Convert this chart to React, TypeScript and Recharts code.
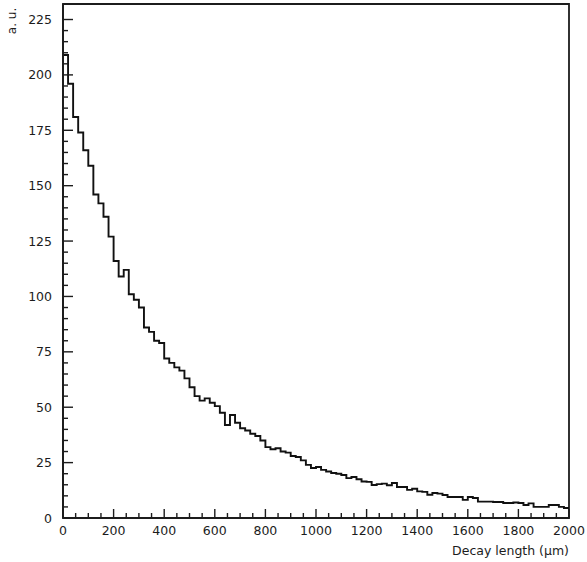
import React from 'react';
import { LineChart, Line, XAxis, YAxis, ReferenceArea } from 'recharts';

// decay length histogram, 20 um bins from 0 to 2000 um
const BIN_WIDTH = 20;
const counts = [
  209, 196, 181, 174, 166, 159, 146, 142, 136, 127,
  116, 109, 112, 101, 98.5, 95, 86, 84, 80, 79,
  72, 70, 68, 66.5, 63, 59, 55, 53, 54, 52,
  50.5, 47.5, 42, 46.5, 43, 40.5, 39.5, 38, 37, 35,
  32, 31, 31.5, 30, 29.5, 28, 27.5, 26, 24, 22.6,
  23, 21.7, 21, 20.3, 20, 19.4, 18, 18.5, 17.5, 16.5,
  16.3, 14.9, 15.3, 15.5, 14.8, 15.8, 14, 14, 12.7, 13.2,
  12, 11.8, 10.5, 11.3, 11, 10.4, 9.5, 9.5, 9.5, 8.2,
  9.5, 9, 7.4, 7.4, 7.4, 7.2, 7.2, 6.8, 6.8, 7,
  6.8, 5.9, 6.6, 5, 5, 5, 5.9, 5.9, 5, 4.5,
];

const xMajorTicks = [0, 200, 400, 600, 800, 1000, 1200, 1400, 1600, 1800, 2000];
const yMajorTicks = [0, 25, 50, 75, 100, 125, 150, 175, 200, 225];
const X_MINOR_STEP = 50;
const Y_MINOR_STEP = 5;
const X_MAX = 2000;
const Y_MAX = 232;

const xTicks = Array.from({ length: X_MAX / X_MINOR_STEP + 1 }, (_, i) => i * X_MINOR_STEP);
const yTicks = Array.from({ length: 225 / Y_MINOR_STEP + 1 }, (_, i) => i * Y_MINOR_STEP);

// step line needs a closing point at the right edge
const data = counts
  .map((c, i) => ({ x: i * BIN_WIDTH, y: c }))
  .concat([{ x: counts.length * BIN_WIDTH, y: counts[counts.length - 1] }]);

const INK = '#1c1c1c';
const FONT = '"DejaVu Sans", sans-serif';

const renderXTick = (props: any) => {
  const { x, y, payload } = props;
  const major = xMajorTicks.includes(payload.value);
  return (
    <g key={`xt-${payload.value}`}>
      <line x1={x} x2={x} y1={y} y2={y - (major ? 9 : 5)} stroke={INK} strokeWidth={1.4} />
      {major && (
        <text x={x} y={y + 17} textAnchor="middle" fontSize={12.5} fontFamily={FONT} fill={INK}>
          {payload.value}
        </text>
      )}
    </g>
  );
};

const renderYTick = (props: any) => {
  const { x, y, payload } = props;
  const major = yMajorTicks.includes(payload.value);
  return (
    <g key={`yt-${payload.value}`}>
      <line x1={x} x2={x + (major ? 10 : 5)} y1={y} y2={y} stroke={INK} strokeWidth={1.4} />
      {major && (
        <text x={x - 11} y={y + 4.5} textAnchor="end" fontSize={12.5} fontFamily={FONT} fill={INK}>
          {payload.value}
        </text>
      )}
    </g>
  );
};

export default function App() {
  return (
    <div style={{ position: 'absolute', left: 0, top: 0, width: 587, height: 562, background: '#fff' }}>
      <LineChart width={587} height={562} data={data} margin={{ top: 4, right: 18, left: 0, bottom: 0 }}>
        <XAxis
          dataKey="x"
          type="number"
          domain={[0, X_MAX]}
          ticks={xTicks}
          interval={0}
          tickSize={0}
          tickMargin={0}
          tickLine={false}
          height={44}
          axisLine={{ stroke: INK, strokeWidth: 1.8 }}
          tick={renderXTick}
        />
        <YAxis
          type="number"
          domain={[0, Y_MAX]}
          ticks={yTicks}
          interval={0}
          tickSize={0}
          tickMargin={0}
          tickLine={false}
          width={63}
          axisLine={{ stroke: INK, strokeWidth: 1.8 }}
          tick={renderYTick}
        />
        <ReferenceArea x1={0} x2={X_MAX} y1={0} y2={Y_MAX} fill="none" stroke={INK} strokeWidth={1.8} />
        <Line
          type="stepAfter"
          dataKey="y"
          stroke="#111"
          strokeWidth={1.9}
          dot={false}
          isAnimationActive={false}
        />
      </LineChart>
      <div
        style={{
          position: 'absolute',
          left: 12,
          top: 21,
          transform: 'translate(-50%, -50%) rotate(-90deg)',
          fontFamily: FONT,
          fontSize: 12,
          color: INK,
          whiteSpace: 'nowrap',
        }}
      >
        a. u.
      </div>
      <div
        style={{
          position: 'absolute',
          right: 18,
          top: 543,
          fontFamily: FONT,
          fontSize: 12.5,
          color: INK,
          whiteSpace: 'nowrap',
        }}
      >
        Decay length (µm)
      </div>
    </div>
  );
}
